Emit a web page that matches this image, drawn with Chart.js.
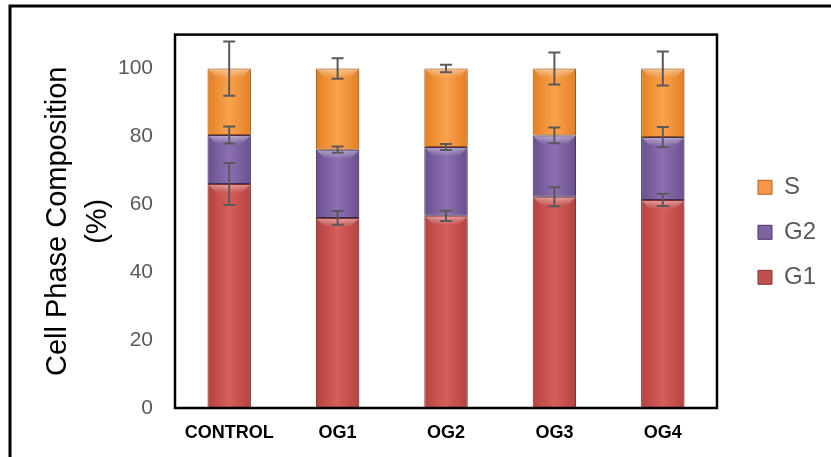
<!DOCTYPE html>
<html>
<head>
<meta charset="utf-8">
<script src="https://cdn.jsdelivr.net/npm/chart.js@4/dist/chart.umd.min.js"></script>
<style>
  html, body { margin: 0; padding: 0; background: #fff; }
  #wrap { width: 831px; height: 457px; position: relative; }
</style>
</head>
<body>
<div id="wrap"><canvas id="cellChart"></canvas></div>
<script>
// dados
const categories = ['CONTROL', 'OG1', 'OG2', 'OG3', 'OG4'];
const seriesNames = ['G1', 'G2', 'S'];
const g1Values = [66.0, 56.0, 56.6, 62.2, 61.3];
const g2Values = [14.4, 20.1, 20.3, 18.1, 18.5];
const sValues = [19.6, 23.9, 23.1, 19.7, 20.2];
const g1Errors = [6.2, 2.0, 1.5, 2.8, 1.8];
const g2Errors = [2.5, 0.9, 0.9, 2.3, 3.0];
const sErrors = [8.0, 3.0, 1.1, 4.7, 5.0];
const yTicks = [0, 20, 40, 60, 80, 100];

// cores: borda escura, centro claro, contorno
const seriesColors = {
  G1: { edge: '#B4423F', mid: '#D65E5B', line: '#8A3432', solid: '#C0504D' },
  G2: { edge: '#6A4F8E', mid: '#8C70B2', line: '#45355F', solid: '#8064A2' },
  S:  { edge: '#E27F22', mid: '#FBA24E', line: '#B5621A', solid: '#F79646' }
};

function barFill(name) {
  return ctx => {
    const chart = ctx.chart;
    const x = chart.scales.x;
    if (!x || ctx.dataIndex === undefined) return seriesColors[name].solid;
    const cx = x.getPixelForValue(ctx.dataIndex);
    if (!isFinite(cx)) return seriesColors[name].solid;
    const half = 22;
    const g = chart.ctx.createLinearGradient(cx - half, 0, cx + half, 0);
    g.addColorStop(0, seriesColors[name].edge);
    g.addColorStop(0.5, seriesColors[name].mid);
    g.addColorStop(1, seriesColors[name].edge);
    return g;
  };
}

function makeDataset(name, values, errors) {
  return {
    label: name,
    data: values,
    errors: errors,
    backgroundColor: barFill(name),
    borderColor: seriesColors[name].line,
    borderWidth: 1,
    borderSkipped: false,
    barPercentage: 0.4,
    categoryPercentage: 1
  };
}

// sombra suave das barras
const shadowPlugin = {
  id: 'shadow',
  beforeDatasetsDraw(chart) {
    const c = chart.ctx;
    c.save();
    c.shadowColor = 'rgba(0,0,0,0.3)';
    c.shadowBlur = 6;
    c.shadowOffsetX = 2;
    c.shadowOffsetY = 1;
  },
  afterDatasetsDraw(chart) {
    chart.ctx.restore();
  }
};

// brilho no topo de cada segmento + barras de erro + molduras
const decorPlugin = {
  id: 'decor',
  afterDatasetsDraw(chart) {
    const c = chart.ctx;
    const y = chart.scales.y;
    c.save();
    chart.data.datasets.forEach((ds, i) => {
      chart.getDatasetMeta(i).data.forEach(el => {
        const l = el.x - el.width / 2, r = el.x + el.width / 2;
        const t = el.y, h = Math.min(9, Math.abs(el.base - el.y));
        const g = c.createLinearGradient(0, t, 0, t + h);
        g.addColorStop(0, 'rgba(255,255,255,0.45)');
        g.addColorStop(1, 'rgba(255,255,255,0)');
        c.fillStyle = g;
        c.beginPath();
        c.moveTo(l + 1, t + 1);
        c.lineTo(r - 1, t + 1);
        c.lineTo(r - 9, t + h);
        c.lineTo(l + 9, t + h);
        c.closePath();
        c.fill();
      });
    });
    c.strokeStyle = '#595959';
    c.lineWidth = 2;
    chart.data.datasets.forEach((ds, i) => {
      chart.getDatasetMeta(i).data.forEach((el, j) => {
        let top = 0;
        for (let k = 0; k <= i; k++) top += chart.data.datasets[k].data[j];
        const e = ds.errors[j];
        const y1 = y.getPixelForValue(top + e), y2 = y.getPixelForValue(top - e);
        c.beginPath();
        c.moveTo(el.x, y1); c.lineTo(el.x, y2);
        c.moveTo(el.x - 6, y1); c.lineTo(el.x + 6, y1);
        c.moveTo(el.x - 6, y2); c.lineTo(el.x + 6, y2);
        c.stroke();
      });
    });
    const a = chart.chartArea;
    c.strokeStyle = '#000';
    c.lineWidth = 2.5;
    c.strokeRect(a.left, a.top, a.right - a.left, a.bottom - a.top);
    c.lineWidth = 3;
    c.beginPath();
    c.moveTo(10, chart.height);
    c.lineTo(10, 6);
    c.lineTo(chart.width, 6);
    c.stroke();
    c.restore();
  }
};

const chartConfig = {
  type: 'bar',
  data: {
    labels: categories,
    datasets: [
      makeDataset('G1', g1Values, g1Errors),
      makeDataset('G2', g2Values, g2Errors),
      makeDataset('S', sValues, sErrors)
    ]
  },
  options: {
    responsive: true,
    maintainAspectRatio: false,
    animation: false,
    layout: { padding: { left: 38, top: 34, right: 5, bottom: 0 } },
    plugins: {
      tooltip: { enabled: false },
      legend: {
        position: 'right',
        fullSize: false,
        reverse: true,
        title: { display: true, text: '', padding: 0, font: { size: 10, lineHeight: 2.2 } },
        labels: {
          boxWidth: 14,
          boxHeight: 14,
          padding: 21,
          color: '#595959',
          font: { family: "'Liberation Sans', Arial, sans-serif", size: 24 },
          generateLabels(chart) {
            const items = Chart.defaults.plugins.legend.labels.generateLabels(chart);
            items.forEach(it => {
              const name = seriesNames[it.datasetIndex];
              it.fillStyle = seriesColors[name].solid;
              it.strokeStyle = seriesColors[name].line;
              it.lineWidth = 1;
            });
            return items;
          }
        }
      }
    },
    scales: {
      x: {
        stacked: true,
        grid: { display: false, drawTicks: false },
        border: { display: false },
        ticks: {
          color: '#000',
          padding: 14,
          font: { family: "'Liberation Sans', Arial, sans-serif", size: 18, weight: 'bold' }
        },
        afterFit: s => { s.height = 49; }
      },
      y: {
        stacked: true,
        min: 0,
        max: 110,
        afterBuildTicks: s => { s.ticks = yTicks.map(v => ({ value: v })); },
        grid: { display: false, drawTicks: false },
        border: { display: false },
        ticks: {
          color: '#595959',
          padding: 22,
          font: { family: "'Liberation Sans', Arial, sans-serif", size: 21 }
        },
        title: {
          display: true,
          text: ['Cell Phase Composition', '(%)'],
          color: '#000',
          padding: 0,
          font: { family: "'Liberation Sans', Arial, sans-serif", size: 29, lineHeight: 1.38 }
        },
        afterFit: s => { s.width = 137; }
      },
      spacer: {
        type: 'linear',
        position: 'right',
        display: true,
        grid: { display: false, drawTicks: false },
        border: { display: false },
        ticks: { display: false },
        afterFit: s => { s.width = 20; }
      }
    }
  },
  plugins: [shadowPlugin, decorPlugin]
};

new Chart(document.getElementById('cellChart').getContext('2d'), chartConfig);
</script>
</body>
</html>
